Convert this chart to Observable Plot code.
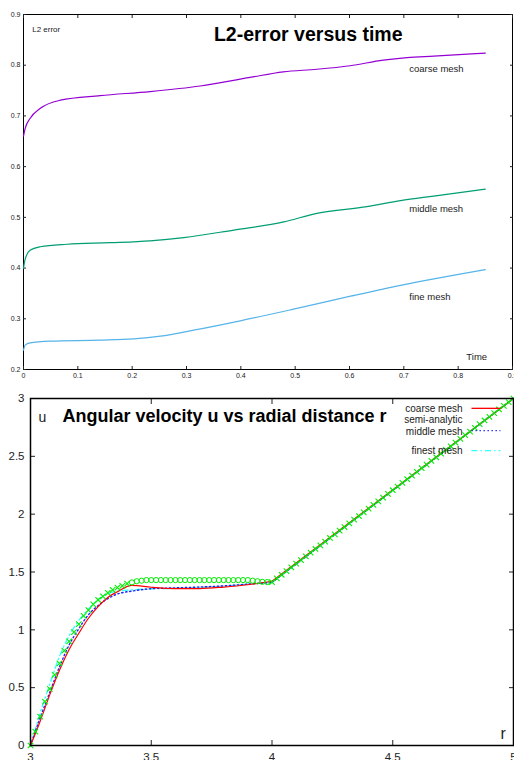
<!DOCTYPE html>
<html><head><meta charset="utf-8">
<script src="https://cdn.jsdelivr.net/npm/d3@7"></script>
<script src="https://cdn.jsdelivr.net/npm/@observablehq/plot@0.6"></script>
<style>body{margin:0;background:#fff;} #c svg{display:block;}</style>
</head><body><div id="c"></div><script>
// ---------- Top chart: L2-error versus time ----------
const timeCoarse = [0, 0.003, 0.012, 0.031, 0.068, 0.141, 0.233, 0.325, 0.417, 0.478, 0.540, 0.601, 0.662, 0.706, 0.755, 0.85];
const errCoarse  = [0.66, 0.675, 0.695, 0.715, 0.731, 0.740, 0.748, 0.759, 0.776, 0.787, 0.792, 0.799, 0.810, 0.815, 0.818, 0.824];
const timeMiddle = [0, 0.003, 0.012, 0.031, 0.08, 0.16, 0.233, 0.295, 0.387, 0.479, 0.540, 0.632, 0.694, 0.755, 0.85];
const errMiddle  = [0.40, 0.417, 0.435, 0.442, 0.447, 0.450, 0.4537, 0.460, 0.475, 0.491, 0.508, 0.521, 0.533, 0.542, 0.5556];
const timeFine   = [0, 0.003, 0.012, 0.049, 0.141, 0.203, 0.252, 0.313, 0.399, 0.497, 0.602, 0.694, 0.85];
const errFine    = [0.238, 0.248, 0.2525, 0.2558, 0.2578, 0.2604, 0.2657, 0.2775, 0.296, 0.319, 0.3446, 0.366, 0.397];
const timeTicks = [0, 0.1, 0.2, 0.3, 0.4, 0.5, 0.6, 0.7, 0.8, 0.9];
const timeTickLabels = ["0", "0.1", "0.2", "0.3", "0.4", "0.5", "0.6", "0.7", "0.8", "0.9"];
const errTicks = [0.2, 0.3, 0.4, 0.5, 0.6, 0.7, 0.8, 0.9];
const errTickLabels = ["0.2", "0.3", "0.4", "0.5", "0.6", "0.7", "0.8", "0.9"];
const topSeriesNames = ["coarse mesh", "middle mesh", "fine mesh"];
const topSeriesColors = ["#9400d3", "#009e73", "#56b4e9"];
const topTitle = "L2-error versus time";
const topYLabel = "L2 error";
const topXLabel = "Time";

// ---------- Bottom chart: Angular velocity u vs radial distance r ----------
// curved part (r from 3 to 4)
const rCoarse = [3.0, 3.04, 3.08, 3.12, 3.16, 3.2, 3.24, 3.28, 3.32, 3.36, 3.42, 3.5, 3.6, 3.7, 3.8, 3.9, 4.0];
const uCoarse = [0, 0.21, 0.44, 0.65, 0.83, 0.97, 1.10, 1.20, 1.28, 1.33, 1.384, 1.368, 1.357, 1.357, 1.37, 1.39, 1.42];
const rMiddle = [3.0, 3.04, 3.08, 3.12, 3.16, 3.2, 3.24, 3.28, 3.32, 3.36, 3.42, 3.5, 3.6, 3.7, 3.8, 3.9, 4.0];
const uMiddle = [0, 0.24, 0.46, 0.68, 0.87, 1.01, 1.13, 1.21, 1.27, 1.31, 1.335, 1.355, 1.363, 1.37, 1.38, 1.395, 1.41];
const rFinest = [3.0, 3.02, 3.04, 3.08, 3.12, 3.16, 3.2, 3.24, 3.28, 3.32, 3.36, 3.42, 3.5, 3.6, 3.7, 3.8, 3.9, 4.0];
const uFinest = [0, 0.14, 0.28, 0.53, 0.77, 0.95, 1.08, 1.18, 1.26, 1.31, 1.335, 1.345, 1.355, 1.358, 1.365, 1.377, 1.395, 1.41];
// straight part (r from 4 to 5)
const rOuter = [4.0, 5.0];
const uCoarseOuter = [1.42, 3.0];
const uMiddleOuter = [1.41, 3.0];
const uFinestOuter = [1.41, 3.0];
const rSemi = d3.range(0, 101).map(i => +(3 + i * 0.02).toFixed(2));
const uSemi = [
  0, 0.12, 0.25, 0.38, 0.49, 0.61, 0.71, 0.82, 0.90, 0.98,
  1.05, 1.12, 1.17, 1.22, 1.26, 1.29, 1.32, 1.345, 1.365, 1.38,
  1.40, 1.41, 1.42, 1.425, 1.43, 1.43, 1.43, 1.43, 1.43, 1.43,
  1.43, 1.43, 1.43, 1.43, 1.43, 1.43, 1.43, 1.43, 1.43, 1.43,
  1.43, 1.43, 1.43, 1.43, 1.43, 1.43, 1.425, 1.42, 1.415, 1.413,
  1.413, 1.445, 1.476, 1.508, 1.540, 1.572, 1.603, 1.635, 1.667, 1.699,
  1.730, 1.762, 1.794, 1.826, 1.857, 1.889, 1.921, 1.953, 1.984, 2.016,
  2.048, 2.080, 2.111, 2.143, 2.175, 2.207, 2.238, 2.270, 2.302, 2.334,
  2.365, 2.397, 2.429, 2.461, 2.492, 2.524, 2.556, 2.587, 2.619, 2.651,
  2.683, 2.714, 2.746, 2.778, 2.810, 2.841, 2.873, 2.905, 2.937, 2.968, 3.0
];
const rTicks = [3, 3.5, 4, 4.5, 5];
const rTickLabels = ["3", "3.5", "4", "4.5", "5"];
const uTicks = [0, 0.5, 1, 1.5, 2, 2.5, 3];
const uTickLabels = ["0", "0.5", "1", "1.5", "2", "2.5", "3"];
const bottomTitle = "Angular velocity u vs radial distance r";
const legendNames = ["coarse mesh", "semi-analytic", "middle mesh", "finest mesh"];

const FONT = '"Liberation Sans", Arial, Helvetica, sans-serif';
const zip = (xs, ys) => xs.map((x, i) => ({x, y: ys[i]}));

// ---------- build top ----------
const topPlot = Plot.plot({
  width: 514, height: 380,
  marginTop: 14, marginBottom: 11, marginLeft: 23, marginRight: 2,
  style: {fontFamily: FONT, background: "white", overflow: "visible", color: "#222"},
  x: {domain: [0, 0.9]},
  y: {domain: [0.2, 0.9]},
  marks: [
    Plot.frame({stroke: "black", strokeWidth: 1}),
    Plot.axisX(timeTicks, {anchor: "bottom", tickSize: 0, tickPadding: 4, fontSize: 7, label: null,
      tickFormat: d => timeTickLabels[timeTicks.indexOf(d)]}),
    Plot.axisX(timeTicks, {anchor: "bottom", tickSize: -3, fill: "none", label: null}),
    Plot.axisX(timeTicks, {anchor: "top", tickSize: -3, fill: "none", label: null}),
    Plot.axisY(errTicks, {anchor: "left", tickSize: 0, tickPadding: 3, fontSize: 7, label: null,
      tickFormat: d => errTickLabels[errTicks.indexOf(d)]}),
    Plot.axisY(errTicks, {anchor: "left", tickSize: -3, fill: "none", label: null}),
    Plot.axisY(errTicks, {anchor: "right", tickSize: -3, fill: "none", label: null}),
    Plot.line(zip(timeCoarse, errCoarse), {x: "x", y: "y", stroke: topSeriesColors[0], strokeWidth: 1.2, curve: "monotone-x"}),
    Plot.line(zip(timeMiddle, errMiddle), {x: "x", y: "y", stroke: topSeriesColors[1], strokeWidth: 1.2, curve: "monotone-x"}),
    Plot.line(zip(timeFine, errFine), {x: "x", y: "y", stroke: topSeriesColors[2], strokeWidth: 1.2, curve: "monotone-x"}),
    Plot.text([topTitle], {x: 0.524, y: 0.8475, text: d => d, fontSize: 19.5, fontWeight: "bold", fill: "black", textAnchor: "middle", lineAnchor: "bottom"}),
    Plot.text([topYLabel], {x: 0.016, y: 0.8653, text: d => d, fontSize: 8, fill: "#222", textAnchor: "start", lineAnchor: "bottom"}),
    Plot.text(topSeriesNames, {x: 0.71, y: [0.7864, 0.5103, 0.3367], text: d => d, fontSize: 9.5, fill: "#222", textAnchor: "start", lineAnchor: "bottom"}),
    Plot.text([topXLabel], {x: 0.815, y: 0.218, text: d => d, fontSize: 9.5, fill: "#222", textAnchor: "start", lineAnchor: "bottom"})
  ]
});

// ---------- build bottom ----------
const semiData = zip(rSemi, uSemi);
const isPlateau = d => d.x > 3.41 && d.x < 3.99;
const finestStyle = {x: "x", y: "y", stroke: "#33ffff", strokeWidth: 1.3, strokeDasharray: "6,3,1.5,3"};
const middleStyle = {x: "x", y: "y", stroke: "#2222ff", strokeWidth: 1.4, strokeDasharray: "1.4,2.6"};
const coarseStyle = {x: "x", y: "y", stroke: "#ff0000", strokeWidth: 1.2};
const bottomPlot = Plot.plot({
  width: 514, height: 380,
  marginTop: 18, marginBottom: 15, marginLeft: 30, marginRight: 1,
  style: {fontFamily: FONT, background: "white", overflow: "visible", color: "#222"},
  x: {domain: [3, 5]},
  y: {domain: [0, 3]},
  marks: [
    Plot.axisX(rTicks, {anchor: "bottom", tickSize: 0, tickPadding: 7, fontSize: 11.5, label: null,
      tickFormat: d => rTickLabels[rTicks.indexOf(d)]}),
    Plot.axisX(rTicks, {anchor: "bottom", tickSize: -5, fill: "none", label: null}),
    Plot.axisX(rTicks, {anchor: "top", tickSize: -5, fill: "none", label: null}),
    Plot.axisY(uTicks, {anchor: "left", tickSize: 0, tickPadding: 6, fontSize: 11.5, label: null,
      tickFormat: d => uTickLabels[uTicks.indexOf(d)]}),
    Plot.axisY(uTicks, {anchor: "left", tickSize: -5, fill: "none", label: null}),
    Plot.axisY(uTicks, {anchor: "right", tickSize: -5, fill: "none", label: null}),
    Plot.line(zip(rFinest, uFinest), {...finestStyle, curve: "monotone-x"}),
    Plot.line(zip(rOuter, uFinestOuter), finestStyle),
    Plot.line(zip(rMiddle, uMiddle), {...middleStyle, curve: "monotone-x"}),
    Plot.line(zip(rOuter, uMiddleOuter), middleStyle),
    Plot.line(zip(rCoarse, uCoarse), {...coarseStyle, curve: "monotone-x"}),
    Plot.line(zip(rOuter, uCoarseOuter), coarseStyle),
    Plot.dot(semiData.filter(isPlateau), {x: "x", y: "y", symbol: "circle", r: 2.6, stroke: "#00ee00", strokeWidth: 1, fill: "none"}),
    Plot.dot(semiData.filter(d => !isPlateau(d)), {x: "x", y: "y", symbol: "times", r: 2.6, stroke: "#00ee00", strokeWidth: 1.1, fill: "none"}),
    Plot.frame({stroke: "black", strokeWidth: 1.5}),
    Plot.text([bottomTitle], {x: 3.1325, y: 2.794, text: d => d, fontSize: 18, fontWeight: "bold", fill: "black", textAnchor: "start", lineAnchor: "bottom"}),
    Plot.text(["u"], {x: 3.033, y: 2.794, text: d => d, fontSize: 14, fill: "#222", textAnchor: "start", lineAnchor: "bottom"}),
    Plot.text(["r"], {x: 4.946, y: 0.058, text: d => d, fontSize: 16, fill: "#222", textAnchor: "start", lineAnchor: "bottom"}),
    Plot.text(legendNames, {x: 4.789, y: [2.88, 2.785, 2.686, 2.522], text: d => d, fontSize: 10, fill: "#222", textAnchor: "end", lineAnchor: "bottom"}),
    Plot.link([0], {x1: 4.826, x2: 4.946, y1: 2.915, y2: 2.915, stroke: "#ff0000", strokeWidth: 1.3}),
    Plot.link([0], {x1: 4.826, x2: 4.946, y1: 2.722, y2: 2.722, stroke: "#2222ff", strokeWidth: 1.4, strokeDasharray: "1.4,2.6"}),
    Plot.link([0], {x1: 4.826, x2: 4.946, y1: 2.549, y2: 2.549, stroke: "#33ffff", strokeWidth: 1.3, strokeDasharray: "6,3,1.5,3"})
  ]
});

const c = document.getElementById("c");
c.appendChild(topPlot);
c.appendChild(bottomPlot);
</script></body></html>
